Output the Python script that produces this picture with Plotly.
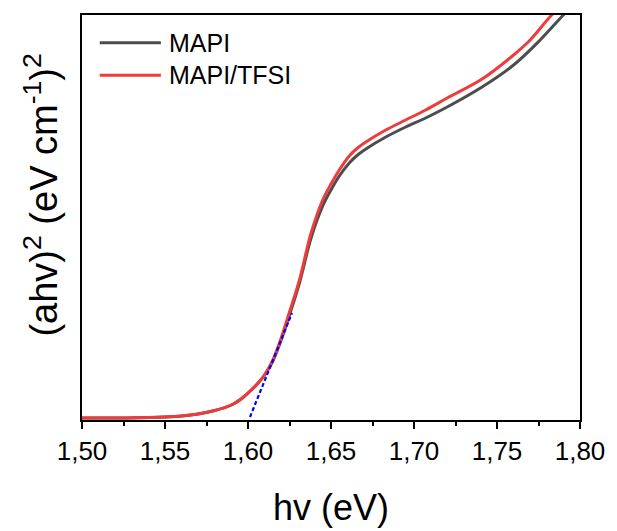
import plotly.graph_objects as go

# Data (y in arbitrary units)
x_red = [1.500, 1.520, 1.540, 1.550, 1.560, 1.570, 1.580, 1.590, 1.595, 1.600, 1.605, 1.610,
         1.615, 1.620, 1.625, 1.631, 1.638, 1.645, 1.650, 1.655, 1.661, 1.666, 1.671, 1.683,
         1.695, 1.707, 1.720, 1.741, 1.760, 1.770, 1.783, 1.792]
y_red = [2, 2, 2.5, 3, 4, 6, 9.5, 15, 20, 27, 35, 45,
         60, 82, 108, 140, 187, 220, 236, 250, 264, 272, 278, 290,
         300, 310, 322, 341, 365, 380, 405, 418]

x_black = [1.500, 1.520, 1.540, 1.550, 1.560, 1.570, 1.580, 1.590, 1.595, 1.600, 1.605, 1.610,
           1.615, 1.620, 1.625, 1.631, 1.638, 1.645, 1.650, 1.655, 1.661, 1.666, 1.671, 1.683,
           1.695, 1.707, 1.720, 1.741, 1.760, 1.776, 1.790, 1.795]
y_black = [2, 2, 2.5, 3, 4, 6, 9.5, 15, 20, 27, 35, 45,
           59, 80, 105, 137, 182, 214, 230, 244, 257, 265, 271, 283,
           293, 302, 313, 333, 355, 380, 405, 413]

x_fit = [1.6012, 1.6265]
y_fit = [3, 107]

x_ticks = [1.50, 1.55, 1.60, 1.65, 1.70, 1.75, 1.80]
x_ticklabels = ["1,50", "1,55", "1,60", "1,65", "1,70", "1,75", "1,80"]

legend_names = ["MAPI", "MAPI/TFSI"]
legend_colors = ["#4d4d4d", "#ee3b3b"]

FONT = "Liberation Sans, Arial, sans-serif"

fig = go.Figure()
fig.add_trace(go.Scatter(x=x_black, y=y_black, mode="lines", name=legend_names[0],
                         line=dict(color=legend_colors[0], width=3, shape="spline", smoothing=1.0),
                         showlegend=False))
fig.add_trace(go.Scatter(x=x_red, y=y_red, mode="lines", name=legend_names[1],
                         line=dict(color=legend_colors[1], width=3, shape="spline", smoothing=1.0),
                         showlegend=False))
fig.add_trace(go.Scatter(x=x_fit, y=y_fit, mode="lines",
                         line=dict(color="#0000ff", width=2.2, dash="4px,2.5px"),
                         showlegend=False))

# manual legend
for i, (nm, col) in enumerate(zip(legend_names, legend_colors)):
    ypix = 42.7 + i * 32.6
    yp = (420 - ypix) / 405
    fig.add_shape(type="line", xref="paper", yref="paper",
                  x0=(100 - 82) / 505, x1=(162 - 82) / 505, y0=yp, y1=yp,
                  line=dict(color=col, width=3))
    fig.add_annotation(xref="paper", yref="paper", x=(168 - 82) / 505, y=yp,
                       xanchor="left", yanchor="middle", showarrow=False,
                       text=nm, font=dict(family=FONT, size=25, color="black"))

# axis titles
fig.add_annotation(xref="paper", yref="paper", x=0.5, y=(420 - 507) / 405,
                   xanchor="center", yanchor="middle", showarrow=False,
                   text="hv (eV)", font=dict(family=FONT, size=36, color="black"))
fig.add_annotation(xref="paper", yref="paper", x=(40 - 82) / 505, y=(420 - 195) / 405,
                   xanchor="center", yanchor="middle", showarrow=False, textangle=-90,
                   text="(ahv)<sup>2</sup> (eV cm<sup>-1</sup>)<sup>2</sup>",
                   font=dict(family=FONT, size=38, color="black"))

fig.update_xaxes(range=[1.50, 1.80], tickvals=x_ticks, ticktext=x_ticklabels,
                 ticks="outside", ticklen=7, tickwidth=1.5, tickcolor="black",
                 minor=dict(ticks="outside", ticklen=4, tickwidth=1.5, tickcolor="black",
                            tick0=1.525, dtick=0.05),
                 showline=True, linecolor="black", linewidth=1.5, mirror=True,
                 showgrid=False, zeroline=False,
                 tickfont=dict(family=FONT, size=26, color="black"))
fig.update_yaxes(range=[0, 405], showticklabels=False, ticks="",
                 showline=True, linecolor="black", linewidth=1.5, mirror=True,
                 showgrid=False, zeroline=False)

fig.update_layout(width=617, height=531,
                  margin=dict(l=82, r=30, t=15, b=111),
                  plot_bgcolor="white", paper_bgcolor="white",
                  showlegend=False)

fig.write_html("out.html")
